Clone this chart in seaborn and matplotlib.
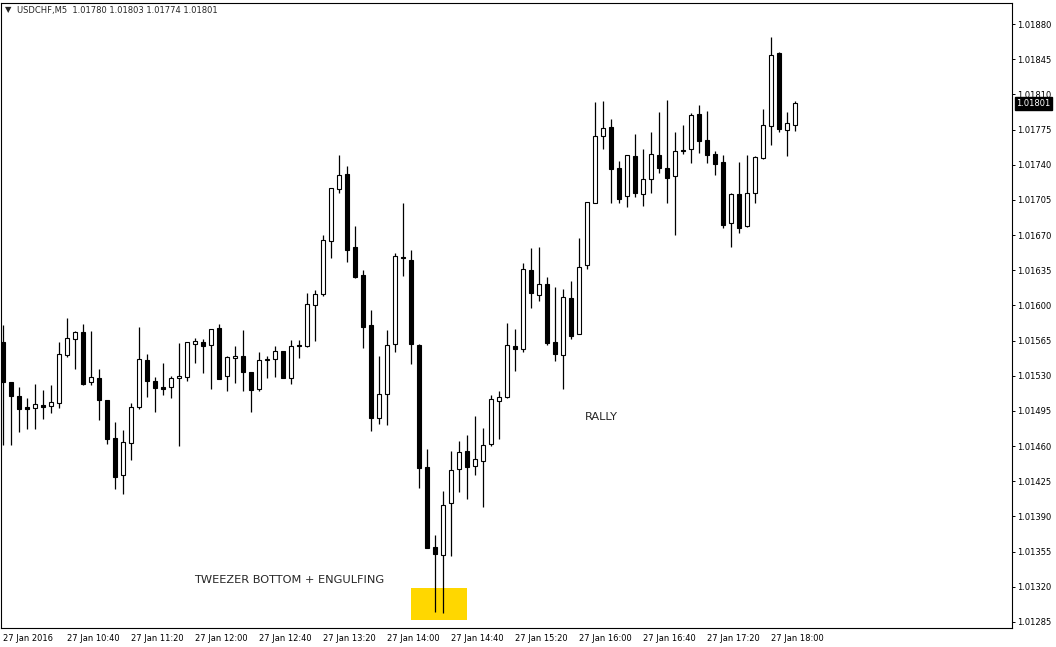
import pandas as pd
import seaborn as sns
import matplotlib.pyplot as plt
import matplotlib.transforms as mtransforms
from matplotlib.patches import Rectangle

# USDCHF M5, 27 Jan 2016 10:00 .. 18:15
opens = [1.01564, 1.01524, 1.01510, 1.01499, 1.01498, 1.01501, 1.01500, 1.01503, 1.01551, 1.01567,
         1.01574, 1.01524, 1.01528, 1.01506, 1.01468, 1.01431, 1.01463, 1.01499, 1.01546, 1.01525,
         1.01519, 1.01519, 1.01528, 1.01529, 1.01562, 1.01564, 1.01561, 1.01578, 1.01530, 1.01548,
         1.01550, 1.01534, 1.01517, 1.01546, 1.01547, 1.01555, 1.01528, 1.01561, 1.01560, 1.01600,
         1.01611, 1.01664, 1.01716, 1.01731, 1.01658, 1.01630, 1.01580, 1.01488, 1.01512, 1.01562,
         1.01648, 1.01645, 1.01561, 1.01439, 1.01360, 1.01352, 1.01403, 1.01437, 1.01455, 1.01440,
         1.01445, 1.01462, 1.01505, 1.01509, 1.01560, 1.01557, 1.01635, 1.01610, 1.01621, 1.01564,
         1.01551, 1.01607, 1.01572, 1.01640, 1.01702, 1.01769, 1.01778, 1.01737, 1.01709, 1.01749,
         1.01711, 1.01726, 1.01750, 1.01737, 1.01729, 1.01755, 1.01756, 1.01790, 1.01765, 1.01751,
         1.01743, 1.01682, 1.01711, 1.01679, 1.01712, 1.01747, 1.01779, 1.01851, 1.01775, 1.01780]
highs = [1.01580, 1.01524, 1.01519, 1.01508, 1.01522, 1.01516, 1.01521, 1.01564, 1.01587, 1.01575,
         1.01581, 1.01575, 1.01537, 1.01506, 1.01484, 1.01476, 1.01503, 1.01579, 1.01552, 1.01529,
         1.01543, 1.01530, 1.01563, 1.01564, 1.01568, 1.01567, 1.01577, 1.01581, 1.01550, 1.01560,
         1.01576, 1.01534, 1.01554, 1.01550, 1.01560, 1.01555, 1.01566, 1.01566, 1.01612, 1.01615,
         1.01670, 1.01717, 1.01750, 1.01739, 1.01679, 1.01635, 1.01595, 1.01550, 1.01576, 1.01652,
         1.01702, 1.01655, 1.01562, 1.01457, 1.01372, 1.01415, 1.01455, 1.01465, 1.01471, 1.01490,
         1.01478, 1.01511, 1.01515, 1.01582, 1.01577, 1.01642, 1.01657, 1.01658, 1.01628, 1.01618,
         1.01616, 1.01624, 1.01667, 1.01703, 1.01802, 1.01803, 1.01785, 1.01744, 1.01750, 1.01771,
         1.01756, 1.01773, 1.01792, 1.01804, 1.01773, 1.01780, 1.01791, 1.01799, 1.01793, 1.01754,
         1.01750, 1.01712, 1.01743, 1.01750, 1.01749, 1.01795, 1.01867, 1.01852, 1.01792, 1.01803]
lows = [1.01461, 1.01461, 1.01474, 1.01477, 1.01477, 1.01487, 1.01493, 1.01498, 1.01549, 1.01537,
        1.01521, 1.01521, 1.01486, 1.01462, 1.01417, 1.01412, 1.01446, 1.01497, 1.01509, 1.01494,
        1.01511, 1.01508, 1.01460, 1.01525, 1.01543, 1.01533, 1.01517, 1.01527, 1.01515, 1.01523,
        1.01515, 1.01494, 1.01515, 1.01528, 1.01529, 1.01528, 1.01522, 1.01548, 1.01559, 1.01565,
        1.01609, 1.01647, 1.01712, 1.01643, 1.01627, 1.01558, 1.01475, 1.01482, 1.01481, 1.01554,
        1.01629, 1.01542, 1.01418, 1.01359, 1.01295, 1.01294, 1.01351, 1.01414, 1.01407, 1.01431,
        1.01399, 1.01460, 1.01467, 1.01508, 1.01535, 1.01554, 1.01597, 1.01604, 1.01561, 1.01545,
        1.01517, 1.01567, 1.01572, 1.01636, 1.01702, 1.01756, 1.01702, 1.01702, 1.01698, 1.01708,
        1.01699, 1.01712, 1.01732, 1.01702, 1.01670, 1.01751, 1.01742, 1.01752, 1.01742, 1.01730,
        1.01677, 1.01658, 1.01672, 1.01678, 1.01702, 1.01746, 1.01760, 1.01773, 1.01749, 1.01774]
closes = [1.01524, 1.01510, 1.01497, 1.01497, 1.01502, 1.01499, 1.01504, 1.01552, 1.01568, 1.01574,
          1.01522, 1.01529, 1.01506, 1.01467, 1.01429, 1.01464, 1.01499, 1.01547, 1.01525, 1.01518,
          1.01517, 1.01528, 1.01530, 1.01564, 1.01565, 1.01560, 1.01577, 1.01527, 1.01549, 1.01550,
          1.01534, 1.01516, 1.01546, 1.01547, 1.01555, 1.01528, 1.01560, 1.01560, 1.01601, 1.01611,
          1.01665, 1.01717, 1.01730, 1.01655, 1.01628, 1.01579, 1.01488, 1.01512, 1.01561, 1.01649,
          1.01647, 1.01562, 1.01438, 1.01359, 1.01353, 1.01401, 1.01436, 1.01454, 1.01439, 1.01447,
          1.01461, 1.01507, 1.01509, 1.01561, 1.01557, 1.01636, 1.01612, 1.01621, 1.01563, 1.01552,
          1.01608, 1.01570, 1.01638, 1.01703, 1.01769, 1.01777, 1.01736, 1.01706, 1.01750, 1.01712,
          1.01726, 1.01751, 1.01737, 1.01727, 1.01754, 1.01754, 1.01789, 1.01764, 1.01750, 1.01741,
          1.01680, 1.01711, 1.01677, 1.01712, 1.01748, 1.01780, 1.01849, 1.01776, 1.01781, 1.01801]

price_ticks = [1.01285, 1.01320, 1.01355, 1.01390, 1.01425, 1.01460, 1.01495, 1.01530, 1.01565,
               1.01600, 1.01635, 1.01670, 1.01705, 1.01740, 1.01775, 1.01810, 1.01845, 1.01880]
time_labels = ["27 Jan 2016", "27 Jan 10:40", "27 Jan 11:20", "27 Jan 12:00", "27 Jan 12:40",
               "27 Jan 13:20", "27 Jan 14:00", "27 Jan 14:40", "27 Jan 15:20", "27 Jan 16:00",
               "27 Jan 16:40", "27 Jan 17:20", "27 Jan 18:00"]
bars_per_label = 8

last_price = 1.01801
highlight_bars = [54, 55]  # tweezer bottom
highlight_price = (1.01287, 1.01319)

df = pd.DataFrame({"open": opens, "high": highs, "low": lows, "close": closes})
df["idx"] = range(len(df))
df["up"] = df["close"] >= df["open"]
df["bottom"] = df[["open", "close"]].min(axis=1)
df["height"] = (df["close"] - df["open"]).abs()

sns.set_theme(style="white")
plt.rcParams["font.family"] = ["DejaVu Sans"]

W, H = 1056, 647
fig = plt.figure(figsize=(W / 100, H / 100), dpi=100)
ax = fig.add_axes([1 / W, 1 - 628 / H, 1011 / W, 625 / H])

# wicks
ax.vlines(df["idx"], df["low"], df["high"], color="black", linewidth=0.9, zorder=2)

# bodies
for up, face in [(True, "white"), (False, "black")]:
    sub = df[df["up"] == up]
    ax.bar(sub["idx"], sub["height"], bottom=sub["bottom"], width=0.5,
           color=face, edgecolor="black", linewidth=0.8, zorder=3)

# yellow highlight behind the tweezer bottom
ax.add_patch(Rectangle((min(highlight_bars) - 3.04, highlight_price[0]), 7.0,
                       highlight_price[1] - highlight_price[0],
                       facecolor="#ffd700", edgecolor="none", zorder=1))

ax.text(23.9, 1.013268, "TWEEZER BOTTOM + ENGULFING", fontsize=8.2, va="center", ha="left")
ax.text(72.7, 1.014890, "RALLY", fontsize=8.2, va="center", ha="left")

ax.set_xlim(-0.29, 126.1)
ax.set_ylim(1.012790, 1.019009)

ax.set_xticks([k * bars_per_label for k in range(len(time_labels))])
ax.set_xticklabels(time_labels, ha="left")
ax.set_yticks(price_ticks)
ax.set_yticklabels([f"{p:.5f}" for p in price_ticks])
ax.yaxis.tick_right()
ax.tick_params(axis="both", labelsize=6, colors="black", length=2.2, width=0.7,
               direction="out", pad=1.5)
ax.tick_params(axis="x", pad=2)
ax.grid(False)
for s in ax.spines.values():
    s.set_color("black")
    s.set_linewidth(0.8)

# current price box
trans = mtransforms.blended_transform_factory(ax.transAxes, ax.transData)
ax.text(1 + 4.5 / 1011, last_price, f"{last_price:.5f}", transform=trans, fontsize=6,
        color="white", va="center", ha="left", zorder=5, clip_on=False,
        bbox=dict(facecolor="black", edgecolor="black", pad=1.2))

# header
fig.text(5 / W, 1 - 10 / H, "\u25bc", fontsize=6, va="center", ha="left")
fig.text(17 / W, 1 - 10 / H, "USDCHF,M5  1.01780 1.01803 1.01774 1.01801",
         fontsize=6, va="center", ha="left")

fig.savefig("out.png", dpi=100, facecolor="white")
